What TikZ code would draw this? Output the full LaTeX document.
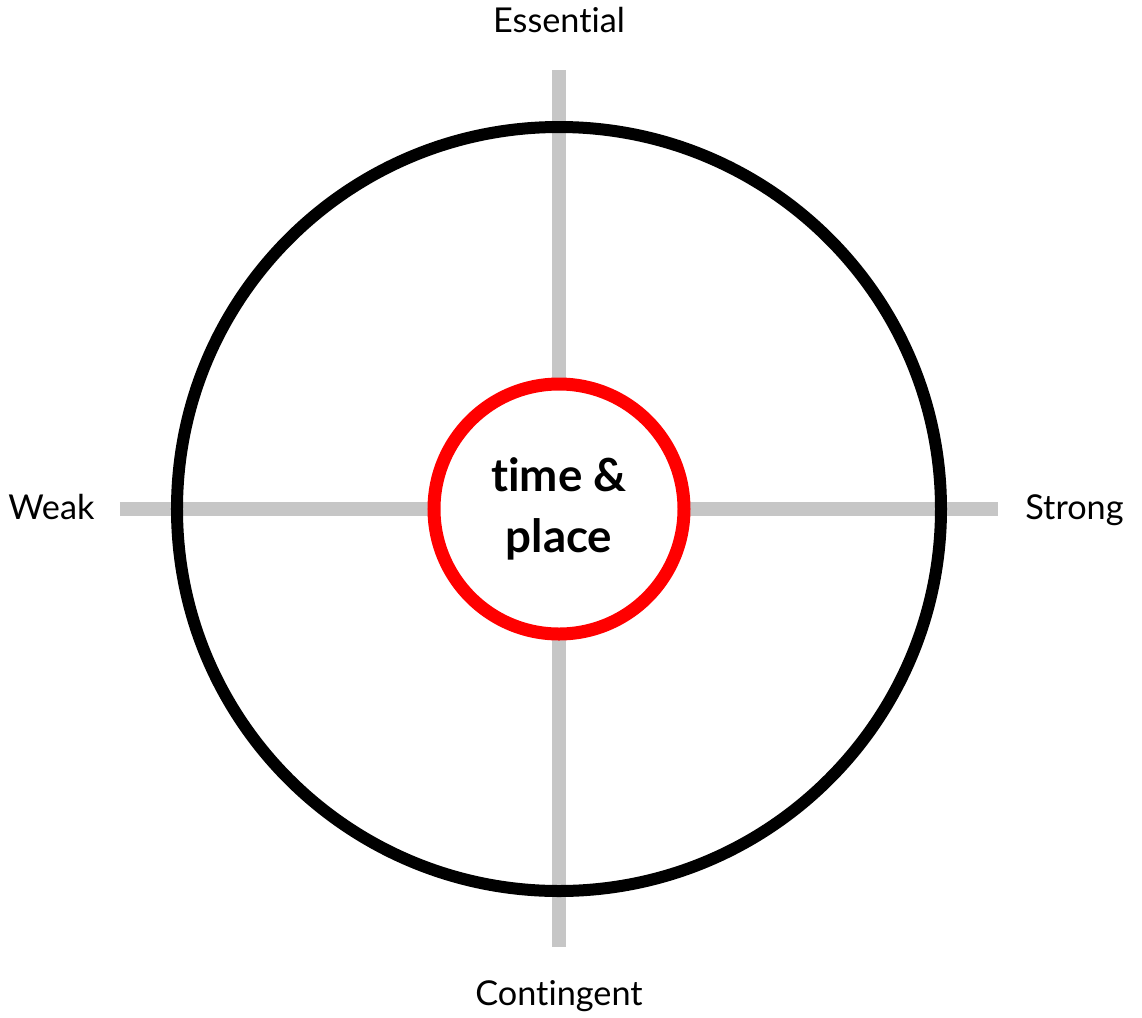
\documentclass[tikz,border=0pt]{standalone}
\usepackage{fontspec}
\setmainfont{Lato}[Ligatures=NoCommon]
\usepackage{tikz}
\usetikzlibrary{positioning}
\definecolor{axisgrey}{RGB}{198,198,198}
\definecolor{ringblack}{RGB}{0,0,0}
\definecolor{corered}{RGB}{255,0,0}
\tikzset{
  base/.style={font=\fontsize{19.5}{23}\selectfont, text=black, inner sep=0pt},
  pole/.style={base, anchor=base},
  axis/.style={draw=axisgrey, line width=0.27cm, line cap=butt},
  ring/.style={circle, draw=ringblack, line width=0.24cm, minimum size=15.28cm, inner sep=0pt},
  core/.style={circle, draw=corered, fill=white, line width=0.26cm, minimum size=5cm, inner sep=0pt,
    align=center, font=\bfseries\fontsize{26}{34.5}\selectfont},
}
\begin{document}
\begin{tikzpicture}
  \useasboundingbox (-11.18,-10.16) rectangle (11.66,10.18);
  % axes
  \coordinate (axN) at (0,8.78);
  \coordinate (axS) at (0,-8.76);
  \coordinate (axW) at (-8.78,0);
  \coordinate (axE) at (8.78,0);
  \foreach \a/\b in {axW/axE,axN/axS}{\draw[axis] (\a) -- (\b);}
  % circles
  \node[ring] (outer) at (0,0) {};
  \node[core] (tp) at (0,0) {time \&\\place};
  % poles
  \node[pole] (ess) at (0,9.52) {Essential};
  \node[pole] (con) at (0,-9.92) {Contingent};
  \node[pole,anchor=base west] (weak) at (-11.02,-0.2) {Weak};
  \node[pole,anchor=base west] (strong) at (9.32,-0.2) {Strong};
\end{tikzpicture}
\end{document}
